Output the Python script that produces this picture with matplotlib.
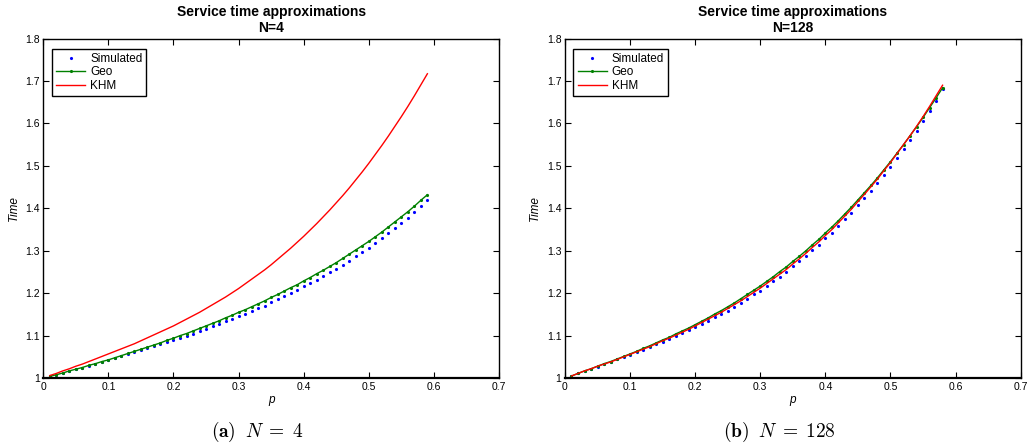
import numpy as np
import matplotlib
matplotlib.use('Agg')
import matplotlib.pyplot as plt
from matplotlib.ticker import FuncFormatter

plt.rcParams['font.family'] = ['Liberation Sans', 'DejaVu Sans']
plt.rcParams['mathtext.fontset'] = 'cm'

# p axis: 0.01 .. 0.59 (N=4) and 0.01 .. 0.58 (N=128)
p4 = np.arange(1, 60) / 100
p128 = np.arange(1, 59) / 100

# N=4, values
sim4 = [1.004, 1.008, 1.012, 1.016, 1.021, 1.025, 1.029, 1.034, 1.038, 1.042,
        1.047, 1.052, 1.056, 1.061, 1.066, 1.070, 1.075, 1.080, 1.085, 1.090,
        1.095, 1.100, 1.105, 1.111, 1.116, 1.122, 1.127, 1.134, 1.139, 1.146,
        1.152, 1.158, 1.165, 1.171, 1.179, 1.186, 1.193, 1.201, 1.207, 1.216,
        1.224, 1.232, 1.240, 1.249, 1.258, 1.267, 1.277, 1.287, 1.297, 1.307,
        1.318, 1.329, 1.341, 1.353, 1.366, 1.378, 1.391, 1.406, 1.419]
geo4 = [1.004, 1.008, 1.012, 1.017, 1.021, 1.025, 1.030, 1.034, 1.039, 1.043,
        1.048, 1.053, 1.058, 1.063, 1.068, 1.073, 1.078, 1.083, 1.089, 1.094,
        1.100, 1.105, 1.111, 1.117, 1.123, 1.129, 1.135, 1.142, 1.148, 1.155,
        1.161, 1.168, 1.175, 1.182, 1.190, 1.197, 1.205, 1.213, 1.220, 1.229,
        1.237, 1.246, 1.254, 1.263, 1.272, 1.282, 1.292, 1.302, 1.312, 1.322,
        1.333, 1.344, 1.356, 1.368, 1.380, 1.392, 1.405, 1.419, 1.432]
khm4 = [1.006, 1.011, 1.017, 1.022, 1.028, 1.033, 1.039, 1.045, 1.051, 1.057,
        1.063, 1.069, 1.075, 1.081, 1.088, 1.095, 1.102, 1.109, 1.116, 1.123,
        1.131, 1.139, 1.147, 1.155, 1.164, 1.173, 1.182, 1.191, 1.201, 1.211,
        1.222, 1.233, 1.244, 1.255, 1.267, 1.280, 1.293, 1.306, 1.320, 1.334,
        1.349, 1.364, 1.380, 1.396, 1.413, 1.430, 1.448, 1.467, 1.486, 1.506,
        1.527, 1.548, 1.570, 1.593, 1.616, 1.640, 1.665, 1.691, 1.717]

# N=128
sim128 = [1.005, 1.011, 1.016, 1.021, 1.027, 1.033, 1.038, 1.044, 1.049, 1.055,
          1.061, 1.067, 1.073, 1.080, 1.086, 1.092, 1.099, 1.106, 1.113, 1.120,
          1.127, 1.135, 1.143, 1.151, 1.159, 1.168, 1.177, 1.187, 1.197, 1.206,
          1.217, 1.228, 1.239, 1.250, 1.263, 1.275, 1.288, 1.301, 1.314, 1.329,
          1.343, 1.358, 1.374, 1.390, 1.407, 1.424, 1.441, 1.460, 1.479, 1.498,
          1.518, 1.539, 1.560, 1.582, 1.605, 1.629, 1.654, 1.680]
geo128 = [1.005, 1.011, 1.017, 1.022, 1.028, 1.034, 1.039, 1.045, 1.051, 1.057,
          1.063, 1.070, 1.076, 1.083, 1.090, 1.096, 1.104, 1.111, 1.118, 1.126,
          1.134, 1.142, 1.151, 1.159, 1.168, 1.177, 1.187, 1.197, 1.207, 1.217,
          1.228, 1.239, 1.251, 1.262, 1.275, 1.287, 1.300, 1.314, 1.327, 1.342,
          1.356, 1.371, 1.387, 1.403, 1.420, 1.437, 1.454, 1.472, 1.491, 1.510,
          1.530, 1.550, 1.571, 1.592, 1.614, 1.637, 1.660, 1.684]
khm128 = [1.005, 1.011, 1.017, 1.022, 1.028, 1.033, 1.038, 1.044, 1.050, 1.056,
          1.062, 1.068, 1.074, 1.081, 1.088, 1.094, 1.101, 1.108, 1.115, 1.123,
          1.131, 1.139, 1.147, 1.155, 1.164, 1.173, 1.182, 1.192, 1.202, 1.212,
          1.223, 1.234, 1.245, 1.256, 1.269, 1.281, 1.294, 1.308, 1.321, 1.336,
          1.350, 1.366, 1.382, 1.398, 1.416, 1.433, 1.451, 1.469, 1.489, 1.508,
          1.529, 1.550, 1.571, 1.593, 1.616, 1.640, 1.665, 1.690]

panels = [
    ('N=4', p4, sim4, geo4, khm4, r'$\mathbf{(a)}\;\;N\;=\;4$', 0.250),
    ('N=128', p128, sim128, geo128, khm128, r'$\mathbf{(b)}\;\;N\;=\;128$', 0.758),
]
xticks = [0, 0.1, 0.2, 0.3, 0.4, 0.5, 0.6, 0.7]
yticks = [1, 1.1, 1.2, 1.3, 1.4, 1.5, 1.6, 1.7, 1.8]

fig = plt.figure(figsize=(10.28, 4.48), dpi=100)
lefts = [0.0421, 0.5496]

for (name, p, sim, geo, khm, cap, capx), left in zip(panels, lefts):
    ax = fig.add_axes([left, 0.156, 0.4433, 0.758])
    ax.plot(p, sim, '.', color='b', markersize=2.5, label='Simulated')
    ax.plot(p, geo, '.-', color=(0, 0.5, 0), markersize=2.5, linewidth=1, label='Geo')
    ax.plot(p, khm, '-', color='r', linewidth=1, label='KHM')
    ax.set_xlim(0, 0.7)
    ax.set_ylim(1, 1.8)
    ax.set_xticks(xticks)
    ax.set_yticks(yticks)
    fmt = FuncFormatter(lambda v, pos: '%g' % round(v, 2))
    ax.xaxis.set_major_formatter(fmt)
    ax.yaxis.set_major_formatter(fmt)
    ax.tick_params(direction='in', top=True, right=True, length=4, width=0.8,
                   labelsize=7.5, pad=2.5, colors='black')
    for s in ax.spines.values():
        s.set_linewidth(1)
    ax.spines['bottom'].set_linewidth(1.6)
    ax.set_title('Service time approximations\n' + name, fontsize=10,
                 fontweight='bold', pad=5, linespacing=1.1)
    ax.set_xlabel('p', fontsize=8.5, style='italic', labelpad=2)
    ax.set_ylabel('Time', fontsize=8.5, style='italic', labelpad=4)
    leg = ax.legend(loc='upper left', bbox_to_anchor=(0.0184, 0.9706),
                    borderaxespad=0, fontsize=8.5, fancybox=False,
                    framealpha=1, edgecolor='black', handlelength=2.5,
                    handletextpad=0.4, labelspacing=0.15, borderpad=0.35,
                    markerscale=1)
    leg.get_frame().set_linewidth(1)
    fig.text(capx, 0.035, cap, fontsize=14, ha='center', va='center')

fig.savefig('out.png', dpi=100)
